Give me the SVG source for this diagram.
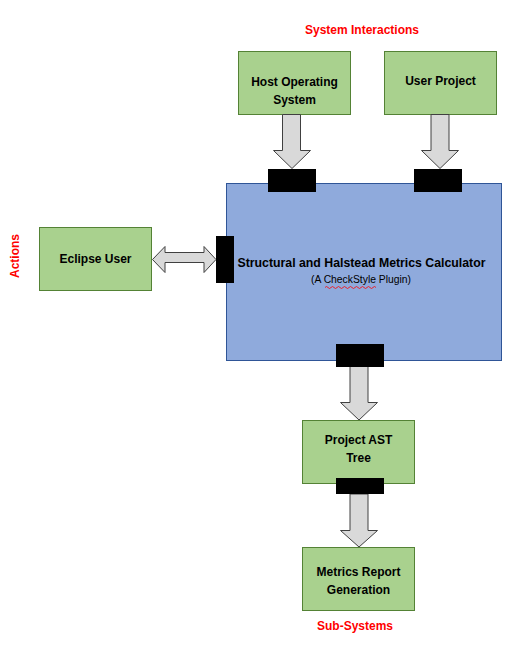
<svg xmlns="http://www.w3.org/2000/svg" width="510" height="648" viewBox="0 0 510 648">
<style>
.box{fill:#A9D18E;stroke:#548235;stroke-width:1}
.main{fill:#8FAADC;stroke:#2F5597;stroke-width:1}
.blk{fill:#000}
.arr{fill:#D9D9D9;stroke:#404040;stroke-width:1}
.t{font-family:"Liberation Sans",Arial,sans-serif;font-weight:bold;font-size:12px;fill:#000;text-anchor:middle}
.s{font-family:"Liberation Sans",Arial,sans-serif;font-size:10px;fill:#000;text-anchor:middle}
.lbl{font-family:"Liberation Sans",Arial,sans-serif;font-weight:bold;font-size:12px;fill:#FF0000;text-anchor:middle}
</style>
<rect width="510" height="648" fill="#fff"/>
<text class="lbl" x="362" y="34">System Interactions</text>
<text class="lbl" transform="translate(19,256) rotate(-90)">Actions</text>
<text class="lbl" x="355" y="630">Sub-Systems</text>

<g id="main-node">
<rect class="main" x="226.5" y="183.5" width="275" height="177"/>
<text class="t" x="361.5" y="267" textLength="248" lengthAdjust="spacingAndGlyphs">Structural and Halstead Metrics Calculator</text>
<text class="s" x="361" y="283" textLength="100" lengthAdjust="spacingAndGlyphs">(A CheckStyle Plugin)</text>
<path d="M325 287.5 q1.5 -2 3 0 t3 0 t3 0 t3 0 t3 0 t3 0 t3 0 t3 0 t3 0 t3 0 t3 0 t3 0 t3 0 t3 0 t3 0 t3 0 t3 0" fill="none" stroke="#FF0000" stroke-width="0.8"/>
</g>

<g id="host-os">
<rect class="box" x="238.5" y="51.5" width="112" height="63"/>
<text class="t" x="294.5" y="86">Host Operating</text>
<text class="t" x="294.5" y="104">System</text>
</g>

<g id="user-project">
<rect class="box" x="384.5" y="51.5" width="112" height="63"/>
<text class="t" x="440.5" y="85">User Project</text>
</g>

<g id="eclipse-user">
<rect class="box" x="39.5" y="227.5" width="112" height="63"/>
<text class="t" x="95.5" y="263">Eclipse User</text>
</g>

<g id="project-ast">
<rect class="box" x="302.5" y="420.5" width="112" height="63"/>
<text class="t" x="358.5" y="444">Project AST</text>
<text class="t" x="358.5" y="462">Tree</text>
</g>

<g id="metrics-report">
<rect class="box" x="302.5" y="547.5" width="112" height="63"/>
<text class="t" x="358.5" y="576">Metrics Report</text>
<text class="t" x="358.5" y="594">Generation</text>
</g>

<g id="connectors">
<path class="arr" d="M282.5 114.5 H300.5 V150.5 H310.5 L292 168.5 L273.5 150.5 H282.5 Z"/>
<path class="arr" d="M431 114.5 H449 V150.5 H458.5 L440 168.5 L421.5 150.5 H431 Z"/>
<path class="arr" d="M152.5 259.5 L165 246.5 V252.5 H204 V246.5 L216 259.5 L204 272.5 V262.5 H165 V272.5 Z"/>
<path class="arr" d="M350 366.5 H368 V402.5 H377.5 L359 420 L340.5 402.5 H350 Z"/>
<path class="arr" d="M350 494 H368 V530.5 H377.5 L359 547 L340.5 530.5 H350 Z"/>
<rect class="blk" x="268" y="169" width="48" height="23"/>
<rect class="blk" x="414" y="169" width="48" height="23"/>
<rect class="blk" x="216" y="236" width="18" height="47"/>
<rect class="blk" x="336" y="344" width="48" height="23"/>
<rect class="blk" x="336" y="478" width="48" height="16"/>
</g>
</svg>
